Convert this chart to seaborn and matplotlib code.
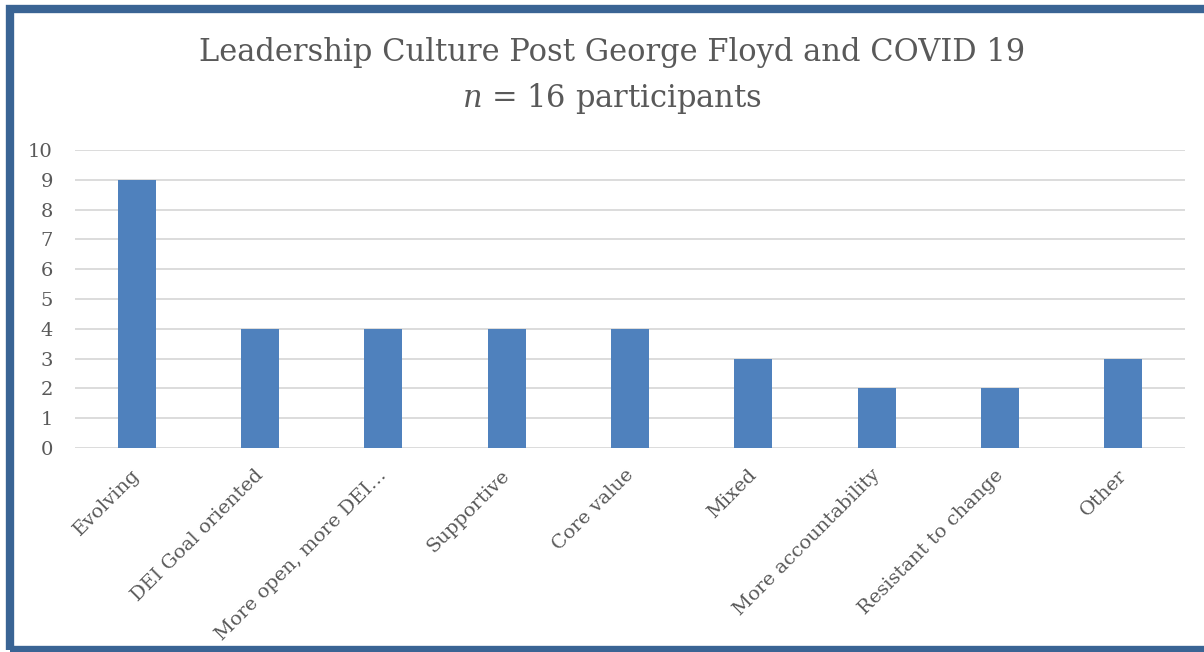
import matplotlib
matplotlib.use("Agg")
import matplotlib.pyplot as plt
import matplotlib.transforms as mtransforms
import seaborn as sns
import pandas as pd
from matplotlib.patches import Rectangle

categories = ["Evolving", "DEI Goal oriented", "More open, more DEI…", "Supportive",
              "Core value", "Mixed", "More accountability", "Resistant to change", "Other"]
counts = [9, 4, 4, 4, 4, 3, 2, 2, 3]
yticks = list(range(0, 11))

sns.set_theme(style="white")
plt.rcParams['font.family'] = ['DejaVu Serif', 'Liberation Serif']
plt.rcParams['mathtext.fontset'] = 'custom'
plt.rcParams['mathtext.it'] = 'DejaVu Serif:italic'
plt.rcParams['mathtext.rm'] = 'DejaVu Serif'

TXT = '#595959'
df = pd.DataFrame({"category": categories, "count": counts})

fig = plt.figure(figsize=(12.04, 6.52), dpi=100)
fig.patch.set_facecolor('white')
ax = fig.add_axes([75/1204, 1-448/652, (1185-75)/1204, (448-150)/652])

sns.barplot(data=df, x="category", y="count", color="#4F81BD", saturation=1,
            width=0.31, ax=ax, zorder=3, linewidth=0)
ax.set_ylim(0, 10)
ax.set_yticks(yticks)
ax.set_xlim(-0.5, len(categories) - 0.5)
ax.grid(axis='y', color='#D9D9D9', linewidth=1.3, zorder=0)
ax.set_axisbelow(True)
for s in ax.spines.values():
    s.set_visible(False)
ax.set_xlabel("")
ax.set_ylabel("")
ax.tick_params(axis='y', length=0, pad=16, labelsize=14, labelcolor=TXT)
ax.tick_params(axis='x', length=0, pad=13, labelsize=14, labelcolor=TXT)
ax.set_xticks(range(len(categories)))
ax.set_xticklabels(categories, rotation=45, ha='right', rotation_mode='anchor')
offset = mtransforms.ScaledTranslation(-6/100, 0, fig.dpi_scale_trans)
for lbl in ax.get_xticklabels():
    lbl.set_transform(lbl.get_transform() + offset)

fig.text(0.508, 1-53/652, "Leadership Culture Post George Floyd and COVID 19",
         ha='center', va='center', fontsize=22, color=TXT)
fig.text(0.508, 1-99/652, r"$n$ = 16 participants",
         ha='center', va='center', fontsize=22, color=TXT)

fig.patches.append(Rectangle((10/1204, 2/652), 1.05, 1-11/652, transform=fig.transFigure,
                             fill=False, edgecolor='#3A6494', linewidth=6, zorder=10))

fig.savefig("out.png", dpi=100)
